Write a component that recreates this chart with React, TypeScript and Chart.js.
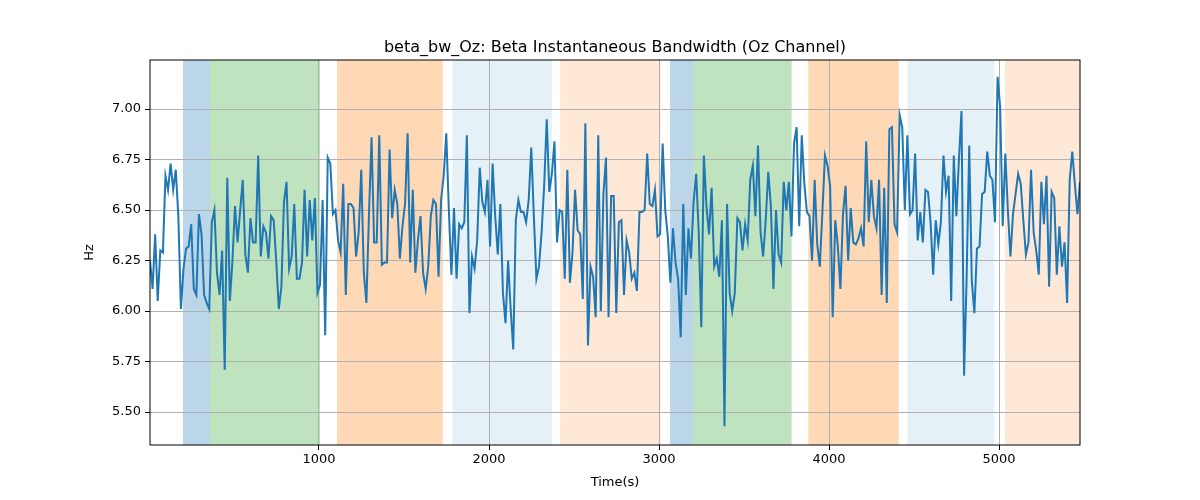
import React, { useEffect, useRef } from "react";
import { Chart, registerables } from "chart.js";
Chart.register(...registerables);

const TITLE = "beta_bw_Oz: Beta Instantaneous Bandwidth (Oz Channel)";
const X_START = 6;
const X_END = 5476;
const X_TICKS = [1000, 2000, 3000, 4000, 5000];
const Y_TICKS = [5.5, 5.75, 6.0, 6.25, 6.5, 6.75, 7.0];
const Y_MIN = 5.337;
const Y_MAX = 7.243;

const values: number[] = [
  6.25, 6.11, 6.38, 6.05, 6.30, 6.29, 6.67, 6.60, 6.73, 6.60, 6.70, 6.47, 6.01, 6.21, 6.31, 6.32, 6.43, 6.11, 6.08, 6.48, 6.38, 6.08, 6.04, 6.01, 6.44, 6.50, 6.19, 6.08, 6.30, 5.71, 6.66, 6.05, 6.25, 6.52, 6.34, 6.50, 6.65, 6.28, 6.19, 6.46, 6.34, 6.34, 6.77, 6.27, 6.42, 6.39, 6.26, 6.47, 6.45, 6.25, 6.01, 6.12, 6.54, 6.64, 6.21, 6.27, 6.53, 6.16, 6.16, 6.24, 6.60, 6.27, 6.55,
  6.35, 6.56, 6.09, 6.13, 6.55, 5.88, 6.76, 6.73, 6.48, 6.50, 6.35, 6.29, 6.63, 6.08, 6.53, 6.53, 6.51, 6.27, 6.39, 6.70, 6.19, 6.04, 6.48, 6.86, 6.34, 6.34, 6.87, 6.23, 6.24, 6.24, 6.80, 6.46, 6.60, 6.53, 6.26, 6.42, 6.53, 6.88, 6.24, 6.60, 6.19, 6.35, 6.47, 6.19, 6.11, 6.22, 6.47, 6.55, 6.53, 6.17, 6.55, 6.67, 6.88, 6.50, 6.18, 6.51, 6.16, 6.43, 6.41,
  6.44, 6.87, 5.99, 6.27, 6.21, 6.35, 6.71, 6.54, 6.49, 6.65, 6.32, 6.73, 6.47, 6.28, 6.53, 6.09, 5.94, 6.25, 6.01, 5.81, 6.45, 6.55, 6.49, 6.49, 6.44, 6.55, 6.81, 6.47, 6.16, 6.22, 6.39, 6.62, 6.95, 6.59, 6.68, 6.84, 6.34, 6.50, 6.49, 6.16, 6.70, 6.14, 6.29, 6.60, 6.40, 6.38, 6.06, 6.93, 5.83, 6.22, 6.17, 5.97, 6.87, 6.00, 6.58, 6.76, 5.97, 6.57, 6.57, 5.99,
  6.44, 6.45, 6.08, 6.35, 6.29, 6.16, 6.19, 6.10, 6.49, 6.49, 6.50, 6.78, 6.53, 6.52, 6.60, 6.37, 6.38, 6.83, 6.50, 6.37, 6.14, 6.41, 6.24, 6.16, 5.87, 6.53, 6.08, 6.41, 6.26, 6.54, 6.68, 6.39, 5.92, 6.77, 6.52, 6.38, 6.61, 6.22, 6.26, 6.17, 6.45, 5.43, 6.53, 6.09, 6.00, 6.09, 6.46, 6.44, 6.30, 6.43, 6.35, 6.65, 6.72, 6.47, 6.82, 6.39, 6.27, 6.45, 6.69, 6.52, 6.11,
  6.50, 6.28, 6.24, 6.64, 6.50, 6.64, 6.37, 6.83, 6.91, 6.42, 6.87, 6.63, 6.49, 6.47, 6.25, 6.65, 6.33, 6.22, 6.49, 6.77, 6.72, 6.62, 5.97, 6.45, 6.32, 6.11, 6.48, 6.62, 6.25, 6.51, 6.34, 6.33, 6.36, 6.41, 6.32, 6.84, 6.44, 6.65, 6.47, 6.41, 6.65, 6.08, 6.61, 6.04, 6.90, 6.91, 6.43, 6.39, 6.97, 6.91, 6.50, 6.87, 6.48, 6.50, 6.78, 6.35, 6.49, 6.34, 6.60, 6.59,
  6.44, 6.18, 6.45, 6.33, 6.44, 6.77, 6.59, 6.67, 6.05, 6.77, 6.47, 6.75, 6.99, 5.68, 6.17, 6.82, 6.15, 5.99, 6.31, 6.32, 6.58, 6.59, 6.79, 6.67, 6.65, 6.44, 7.16, 7.01, 6.42, 6.78, 6.50, 6.27, 6.48, 6.58, 6.68, 6.63, 6.45, 6.28, 6.34, 6.70, 6.39, 6.30, 6.18, 6.64, 6.43, 6.67, 6.12, 6.59, 6.56, 6.18, 6.42, 6.22, 6.34, 6.04, 6.65, 6.79, 6.63, 6.48, 6.64,
];

const regionStarts = [200, 359, 1106, 1784, 2418, 3065, 3202, 3878, 4461, 5035];
const regionEnds = [359, 1006, 1728, 2369, 3008, 3202, 3780, 4410, 4971, 5476];
const regionColors = [
  "rgba(31,119,180,0.3)", "rgba(44,160,44,0.3)", "rgba(255,127,14,0.3)", "rgba(31,119,180,0.11)", "rgba(255,127,14,0.17)",
  "rgba(31,119,180,0.3)", "rgba(44,160,44,0.3)", "rgba(255,127,14,0.3)", "rgba(31,119,180,0.11)", "rgba(255,127,14,0.17)",
];

const FONT = "'DejaVu Sans', sans-serif";

export default function App() {
  const ref = useRef<HTMLCanvasElement>(null);
  useEffect(() => {
    document.body.style.margin = "0";
    const step = (X_END - X_START) / (values.length - 1);
    const pts = values.map((y, i) => ({ x: X_START + i * step, y }));
    const plugin = {
      id: "deco",
      beforeDraw(chart: any) {
        const { ctx, chartArea: a, scales } = chart;
        ctx.save();
        ctx.fillStyle = "#fff";
        ctx.fillRect(0, 0, chart.width, chart.height);
        regionStarts.forEach((s, i) => {
          const x0 = Math.max(scales.x.getPixelForValue(s), a.left);
          const x1 = Math.min(scales.x.getPixelForValue(regionEnds[i]), a.right);
          ctx.fillStyle = regionColors[i];
          ctx.fillRect(x0, a.top, x1 - x0, a.bottom - a.top);
        });
        ctx.restore();
      },
      afterDraw(chart: any) {
        const { ctx, chartArea: a } = chart;
        ctx.save();
        ctx.strokeStyle = "#000";
        ctx.lineWidth = 1;
        ctx.strokeRect(a.left, a.top, a.right - a.left, a.bottom - a.top);
        ctx.fillStyle = "#000";
        ctx.font = "16px " + FONT;
        ctx.textAlign = "center";
        ctx.textBaseline = "alphabetic";
        ctx.fillText(TITLE, (a.left + a.right) / 2, 52);
        ctx.restore();
      },
    };
    const chart = new Chart(ref.current!, {
      type: "line",
      data: {
        datasets: [{
          data: pts,
          borderColor: "#1f77b4",
          borderWidth: 2,
          pointRadius: 0,
          tension: 0,
          fill: false,
        }],
      },
      options: {
        animation: false,
        responsive: false,
        layout: { padding: { top: 60, right: 120, left: 0, bottom: 10 } },
        plugins: { legend: { display: false }, tooltip: { enabled: false }, title: { display: false } },
        scales: {
          x: {
            type: "linear",
            min: X_START,
            max: X_END,
            afterBuildTicks: (s: any) => { s.ticks = X_TICKS.map((v) => ({ value: v })); },
            afterFit: (s: any) => { s.height = 45; },
            grid: { color: "#b0b0b0", tickLength: 5, tickColor: "#000" },
            border: { display: false },
            ticks: { color: "#000", font: { family: FONT, size: 13 }, maxRotation: 0, padding: 2, callback: (v: any) => String(v) },
            title: { display: true, text: "Time(s)", color: "#000", font: { family: FONT, size: 13 }, padding: { top: 2, bottom: 0 } },
          },
          y: {
            type: "linear",
            min: Y_MIN,
            max: Y_MAX,
            afterBuildTicks: (s: any) => { s.ticks = Y_TICKS.map((v) => ({ value: v })); },
            afterFit: (s: any) => { s.width = 150; },
            grid: { color: "#b0b0b0", tickLength: 5, tickColor: "#000" },
            border: { display: false },
            ticks: { color: "#000", font: { family: FONT, size: 13 }, padding: 4, callback: (v: any) => Number(v).toFixed(2) },
            title: { display: true, text: "Hz", color: "#000", font: { family: FONT, size: 13 }, padding: { top: 82, bottom: 0 } },
          },
        },
      },
      plugins: [plugin],
    });
    return () => chart.destroy();
  }, []);
  return (
    <div style={{ width: 1200, height: 500 }}>
      <canvas ref={ref} width={1200} height={500} style={{ display: "block" }} />
    </div>
  );
}
